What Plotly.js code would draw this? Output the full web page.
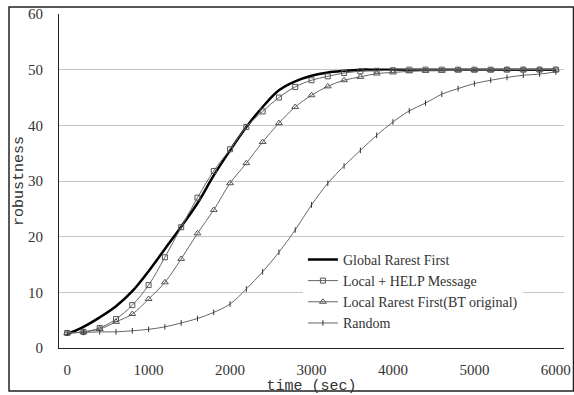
<!DOCTYPE html>
<html>
<head>
<meta charset="utf-8">
<script src="https://cdn.plot.ly/plotly-3.0.1.min.js"></script>
<style>html,body{margin:0;padding:0;background:#fff;}#chart{width:574px;height:395px;}</style>
</head>
<body>
<div id="chart"></div>
<script>
// time (sec), every 200 s
const timeSec = [0,200,400,600,800,1000,1200,1400,1600,1800,2000,2200,2400,2600,2800,3000,
  3200,3400,3600,3800,4000,4200,4400,4600,4800,5000,5200,5400,5600,5800,6000];

const globalRarest = [2.5,3.8,5.5,7.5,10.2,13.8,17.8,21.8,26.0,31.0,35.5,39.7,43.3,46.3,47.9,48.9,
  49.5,49.8,50,50,50,50,50,50,50,50,50,50,50,50,50];

const localHelp = [2.7,2.9,3.6,5.2,7.7,11.3,16.3,21.7,27.0,31.8,35.7,39.7,42.5,45.0,46.9,48.1,
  48.8,49.4,49.7,49.8,49.9,50,50,50,50,50,50,50,50,50,50];

const localRarest = [2.7,2.9,3.4,4.7,6.1,8.8,11.8,16.0,20.6,24.8,29.6,33.2,37.0,40.4,43.3,45.4,
  47.0,48.1,48.7,49.3,49.5,49.7,49.8,49.8,49.9,49.9,49.9,50,50,50,50];

const randomSel = [2.7,2.8,2.9,2.9,3.1,3.35,3.8,4.5,5.3,6.4,7.9,10.6,13.7,17.2,21.2,25.7,
  29.6,32.7,35.5,38.2,40.6,42.6,44.0,45.6,46.6,47.5,48.1,48.6,49.0,49.2,49.6];

const seriesNames = ["Global Rarest First","Local + HELP Message","Local Rarest First(BT original)","Random"];
const xTickVals = [0,1000,2000,3000,4000,5000,6000];
const xTickMarks = [900,1900,2900,3900,4900,5900];
const yTickVals = [0,10,20,30,40,50,60];
const yDarkGrid = [20,40,50];

const traces = [
  {x: timeSec, y: globalRarest, name: seriesNames[0], mode: 'lines',
   line: {color: '#000', width: 2.5, shape: 'spline'}},
  {x: timeSec, y: localHelp, name: seriesNames[1], mode: 'lines+markers',
   line: {color: '#666', width: 1, shape: 'spline'},
   marker: {symbol: 'square-open', size: 5, color: '#555', line: {width: 1}}},
  {x: timeSec, y: localRarest, name: seriesNames[2], mode: 'lines+markers',
   line: {color: '#666', width: 1, shape: 'spline'},
   marker: {symbol: 'triangle-up-open', size: 6, color: '#555', line: {width: 1}}},
  {x: timeSec, y: randomSel, name: seriesNames[3], mode: 'lines+markers',
   line: {color: '#666', width: 1, shape: 'spline'},
   marker: {symbol: 'line-ns', size: 4, color: '#333', line: {width: 1, color: '#333'}}}
];

const serif = '"Liberation Serif", "DejaVu Serif", "Times New Roman", serif';
const mono = '"Liberation Mono", "DejaVu Sans Mono", monospace';

const layout = {
  width: 574, height: 395,
  margin: {l: 59, r: 10, t: 14, b: 47},
  paper_bgcolor: '#fff', plot_bgcolor: '#fff',
  showlegend: true,
  legend: {x: 0.483, y: 0.312, xanchor: 'left', yanchor: 'top', tracegroupgap: 0,
    bgcolor: '#fff', borderwidth: 0, font: {family: serif, size: 14, color: '#333'}},
  xaxis: {range: [-100, 6100], tickvals: xTickVals, ticks: '', showgrid: false, zeroline: false,
    showline: true, linecolor: '#222', linewidth: 1,
    tickfont: {family: serif, size: 15, color: '#333'}, ticklabelstandoff: 8,
    title: {text: 'time (sec)', font: {family: mono, size: 15, color: '#333'}, standoff: 0}},
  xaxis2: {overlaying: 'x', range: [-100, 6100], tickvals: xTickMarks, ticks: 'inside', ticklen: 5,
    tickcolor: '#444', showticklabels: false, showgrid: false, zeroline: false, showline: false, side: 'bottom'},
  yaxis: {range: [0, 60], tickvals: yTickVals, ticks: '', showgrid: true, gridcolor: '#c4c4c4', gridwidth: 1,
    zeroline: false, showline: true, linecolor: '#222', linewidth: 1,
    tickfont: {family: serif, size: 15, color: '#333'}, ticklabelstandoff: 12,
    title: {text: 'robustness', font: {family: mono, size: 15, color: '#333'}, standoff: 0}},
  yaxis2: {overlaying: 'y', side: 'right', range: [0, 60], tickvals: yDarkGrid, ticks: '',
    showticklabels: false, showgrid: true, gridcolor: '#333', gridwidth: 1, zeroline: false,
    showline: true, linecolor: '#bbb', linewidth: 1},
  shapes: [{type: 'rect', xref: 'paper', yref: 'paper',
    x0: -0.099, x1: 1.0188, y0: -0.1287, y1: 1.021, line: {color: '#222', width: 1.5}}]
};

Plotly.newPlot('chart', traces, layout, {displayModeBar: false, staticPlot: true});
</script>
</body>
</html>
